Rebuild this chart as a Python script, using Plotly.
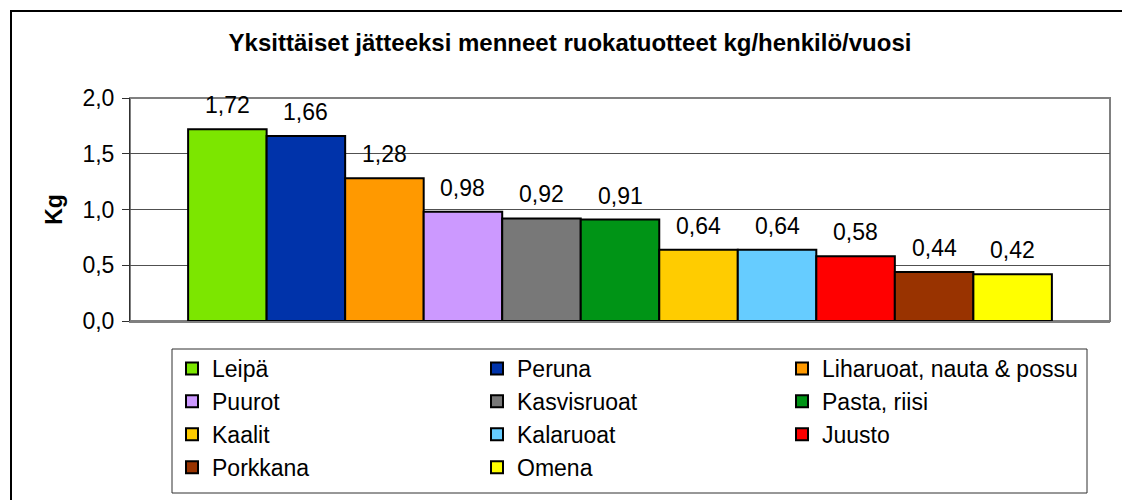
import plotly.graph_objects as go

categories = ["Leipä", "Peruna", "Liharuoat, nauta & possu", "Puurot", "Kasvisruoat",
              "Pasta, riisi", "Kaalit", "Kalaruoat", "Juusto", "Porkkana", "Omena"]
values = [1.72, 1.66, 1.28, 0.98, 0.92, 0.91, 0.64, 0.64, 0.58, 0.44, 0.42]
colors = ["#7CE600", "#0033AA", "#FF9900", "#CC99FF", "#787878", "#009416",
          "#FFCC00", "#66CCFF", "#FF0000", "#993300", "#FFFF00"]
y_ticks = [0.0, 0.5, 1.0, 1.5, 2.0]

FONT = "Liberation Sans, Arial, sans-serif"
FS = 23
W, H = 1122, 500
L, R, T, B = 130, 12, 98, 179
pw, ph = W - L - R, H - T - B

def px_x(p):
    return (p - L) / pw

def px_y(p):
    return (H - B - p) / ph

fig = go.Figure()
for i, (name, v, c) in enumerate(zip(categories, values, colors)):
    fig.add_trace(go.Bar(
        x=[i], y=[v], width=1, name=name,
        marker=dict(color=c, line=dict(color="#000000", width=2)),
    ))
    fig.add_annotation(x=i, y=v, text=f"{v:.2f}".replace(".", ","), showarrow=False,
                       yanchor="bottom", yshift=9, font=dict(size=FS, color="#000000", family=FONT))

n = len(values)
fig.update_layout(
    width=W, height=H,
    margin=dict(l=L, r=R, t=T, b=B, pad=0),
    paper_bgcolor="white", plot_bgcolor="white",
    separators=",.",
    barmode="overlay",
    font=dict(family=FONT, size=FS, color="#000000"),
    title=dict(text="<b>Yksittäiset jätteeksi menneet ruokatuotteet kg/henkilö/vuosi</b>",
               x=570 / W, xanchor="center", xref="container",
               y=1 - 43 / H, yanchor="middle", yref="container",
               font=dict(size=24, family=FONT, color="#000000")),
    xaxis=dict(range=[-1.24, n - 1 + 1.24], showticklabels=False, showgrid=False,
               zeroline=False, showline=True, linecolor="#808080", linewidth=2, ticks="",
               fixedrange=True),
    yaxis=dict(range=[0, 2.0], tickvals=y_ticks, tickformat=".1f",
               showgrid=True, gridcolor="#505050", gridwidth=1, zeroline=False,
               showline=True, linecolor="#303030", linewidth=1,
               ticks="outside", ticklen=7, tickcolor="#303030", tickwidth=1,
               ticklabelstandoff=3, fixedrange=True,
               title=dict(text="<b>Kg</b>", standoff=13, font=dict(size=FS, family=FONT))),
    legend=dict(orientation="h", xref="container", yref="container",
                x=172 / W, y=1 - 347 / H, xanchor="left", yanchor="top",
                entrywidth=260, entrywidthmode="pixels",
                borderwidth=0, bgcolor="rgba(0,0,0,0)",
                font=dict(size=23, family=FONT, color="#000000"), traceorder="normal",
                itemsizing="constant"),
    showlegend=True,
)
# plot area border (top/right)
fig.add_shape(type="rect", xref="paper", yref="paper", x0=0, y0=0, x1=1, y1=1,
              line=dict(color="#808080", width=2), layer="below")
# legend frame
fig.add_shape(type="rect", xref="paper", yref="paper",
              x0=px_x(172), y0=px_y(493), x1=px_x(1087), y1=px_y(349),
              line=dict(color="#303030", width=1), fillcolor="rgba(0,0,0,0)", layer="above")
# outer chart border
fig.add_shape(type="rect", xref="paper", yref="paper",
              x0=px_x(11), y0=px_y(520), x1=px_x(1140), y1=px_y(11),
              line=dict(color="#000000", width=2), fillcolor="rgba(0,0,0,0)", layer="above")

fig.write_html("out.html", config={"displayModeBar": False},
               post_script="document.body.style.margin='0';document.body.style.padding='0';")
